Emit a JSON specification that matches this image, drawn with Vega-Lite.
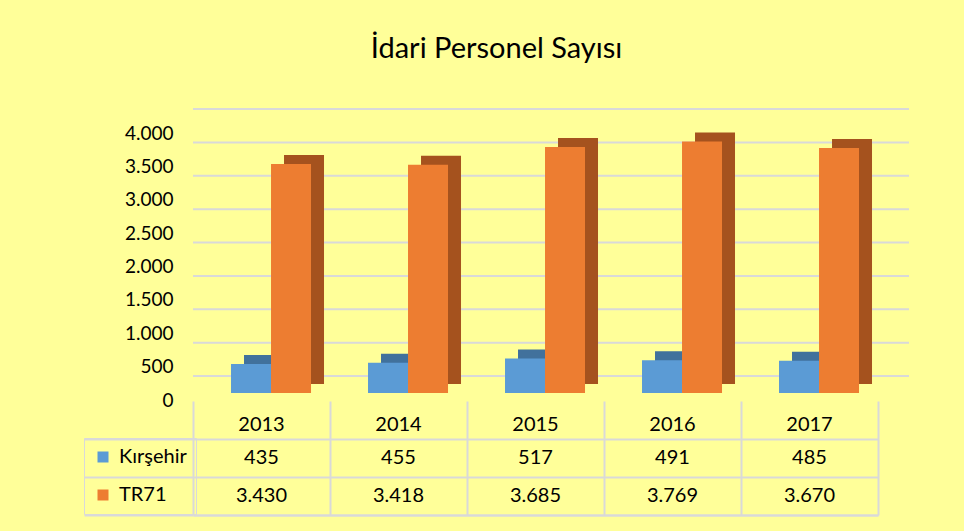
{
  "$schema": "https://vega.github.io/schema/vega-lite/v6.json",
  "background": "#FFFF99",
  "padding": {"left": 83, "top": 35, "right": 56, "bottom": 17},
  "bounds": "flush",
  "spacing": 8,
  "title": {"text": "İdari Personel Sayısı", "fontSize": 29, "font": "Lato", "fontWeight": "normal", "color": "#000000", "anchor": "middle", "offset": 44},
  "data": {"values": [
    {"year": "2013", "series": "Kırşehir", "value": 435},
    {"year": "2014", "series": "Kırşehir", "value": 455},
    {"year": "2015", "series": "Kırşehir", "value": 517},
    {"year": "2016", "series": "Kırşehir", "value": 491},
    {"year": "2017", "series": "Kırşehir", "value": 485},
    {"year": "2013", "series": "TR71", "value": 3430},
    {"year": "2014", "series": "TR71", "value": 3418},
    {"year": "2015", "series": "TR71", "value": 3685},
    {"year": "2016", "series": "TR71", "value": 3769},
    {"year": "2017", "series": "TR71", "value": 3670}
  ]},
  "config": {
    "view": {"stroke": null},
    "font": "Lato",
    "locale": {"number": {"decimal": ",", "thousands": ".", "grouping": [3], "currency": ["", " ₺"]}}
  },
  "vconcat": [
    {
      "width": 685,
      "height": 267,
      "resolve": {"scale": {"xOffset": "independent"}, "axis": {"y": "independent"}},
      "layer": [
        {
          "data": {"values": [{"tick": 0}, {"tick": 500}, {"tick": 1000}, {"tick": 1500}, {"tick": 2000}, {"tick": 2500}, {"tick": 3000}, {"tick": 3500}, {"tick": 4000}]},
          "mark": {"type": "rule", "color": "#D9D9D9", "strokeWidth": 2, "xOffset": 31, "x2Offset": 31, "yOffset": -17},
          "encoding": {
            "y": {"field": "tick", "type": "quantitative", "scale": {"domain": [0, 4000], "nice": false},
              "axis": {"values": [0, 500, 1000, 1500, 2000, 2500, 3000, 3500, 4000], "tickCount": 9, "labelExpr": "replace(format(datum.value, ','), ',', '.')", "labelOverlap": false, "title": null, "grid": false, "domain": false, "ticks": false, "labelPadding": 20, "labelOffset": 7, "labelFontSize": 19, "labelFont": "Lato", "labelColor": "#000000"}}
          }
        },
        {
          "mark": {"type": "bar", "yOffset": -9, "y2Offset": -9},
          "encoding": {
            "x": {"field": "year", "type": "nominal", "scale": {"paddingInner": 0, "paddingOuter": 0}, "axis": null},
            "xOffset": {"field": "series", "type": "nominal", "scale": {"domain": ["Kırşehir", "TR71"], "paddingInner": 0, "paddingOuter": 0.7125, "align": 0.895}},
            "y": {"field": "value", "type": "quantitative", "axis": null},
            "color": {"condition": {"test": "datum.series === 'TR71'", "value": "#A5521E"}, "value": "#41719C"}
          }
        },
        {
          "mark": {"type": "bar"},
          "encoding": {
            "x": {"field": "year", "type": "nominal", "scale": {"paddingInner": 0, "paddingOuter": 0}, "axis": null},
            "xOffset": {"field": "series", "type": "nominal", "scale": {"domain": ["Kırşehir", "TR71"], "paddingInner": 0, "paddingOuter": 0.7125, "align": 0.667}},
            "y": {"field": "value", "type": "quantitative", "axis": null},
            "color": {"field": "series", "type": "nominal", "scale": {"domain": ["Kırşehir", "TR71"], "range": ["#5B9BD5", "#ED7D31"]},
              "legend": {"orient": "none", "legendX": -109, "legendY": 312, "title": null, "symbolType": "square", "symbolSize": 121, "symbolStrokeWidth": 0, "labelFontSize": 20, "labelFont": "Lato", "labelColor": "#000000", "rowPadding": 18, "padding": 9, "strokeColor": "#D9D9D9", "labelOffset": 6}}
          }
        }
      ]
    },
    {
      "width": 685,
      "height": 114,
      "layer": [
        {
          "mark": {"type": "text", "fontSize": 20, "font": "Lato", "color": "#000000"},
          "encoding": {
            "x": {"field": "year", "type": "nominal", "scale": {"paddingInner": 0, "paddingOuter": 0},
              "axis": {"title": null, "orient": "bottom", "labels": false, "ticks": false, "domain": true, "domainColor": "#D9D9D9", "domainWidth": 2, "grid": true, "tickBand": "extent", "gridColor": "#D9D9D9", "gridWidth": 2, "gridOpacity": 1}},
            "y": {"field": "series", "type": "nominal", "scale": {"domain": ["year", "Kırşehir", "TR71"], "paddingInner": 0, "paddingOuter": 0},
              "axis": {"title": null, "values": ["Kırşehir", "TR71"], "labels": false, "domain": false, "grid": true, "tickBand": "extent", "gridColor": "#D9D9D9", "gridWidth": 2, "gridOpacity": 1, "ticks": true, "tickSize": 109, "tickColor": "#D9D9D9", "tickWidth": 2, "tickOpacity": 1}},
            "text": {"field": "value", "type": "quantitative", "format": ","}
          }
        },
        {
          "transform": [{"filter": "datum.series === 'TR71'"}],
          "mark": {"type": "text", "fontSize": 20, "font": "Lato", "color": "#000000", "dy": 5},
          "encoding": {
            "x": {"field": "year", "type": "nominal"},
            "y": {"datum": "year"},
            "text": {"field": "year", "type": "nominal"}
          }
        }
      ]
    }
  ]
}
